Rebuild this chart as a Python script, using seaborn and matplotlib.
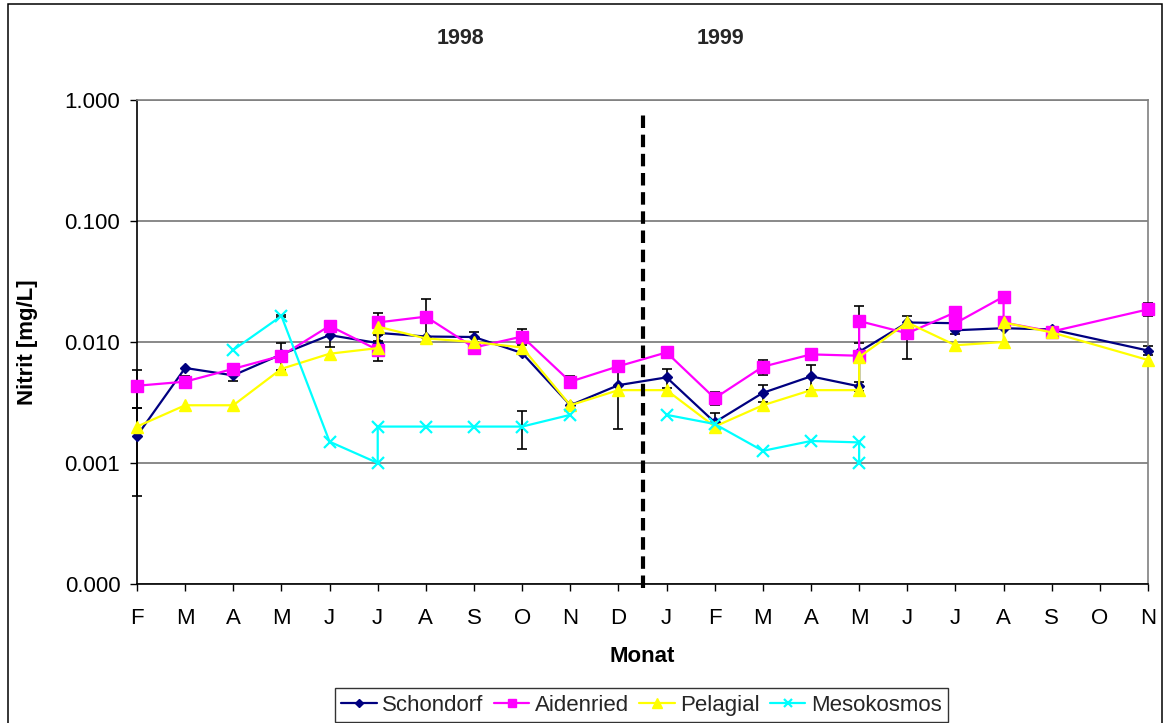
import numpy as np
import pandas as pd
import matplotlib
matplotlib.use("Agg")
import matplotlib.pyplot as plt
import seaborn as sns
from matplotlib.lines import Line2D
from matplotlib.patches import Rectangle
from matplotlib.ticker import FixedLocator, NullLocator, FuncFormatter

# Sampling months Feb 1998 - Nov 1999 (category positions 0..21)
months = ["F", "M", "A", "M", "J", "J", "A", "S", "O", "N", "D",
          "J", "F", "M", "A", "M", "J", "J", "A", "S", "O", "N"]
year_labels = ["1998", "1999"]

# Nitrite [mg/L]; repeated positions are two samplings within the same month
schondorf_pos = [0, 1, 2, 3, 4, 5, 5, 6, 7, 8, 9, 10, 11, 12, 13, 14, 15, 15,
                 16, 17, 17, 18, 19, 21]
schondorf_val = [0.00168, 0.0061, 0.0053, 0.0079, 0.0114, 0.0098, 0.0119,
                 0.0111, 0.0110, 0.0081, 0.0030, 0.0044, 0.0051, 0.00217,
                 0.0038, 0.0052, 0.0043, 0.0083, 0.0145, 0.0143, 0.0125,
                 0.0130, 0.0127, 0.0085]
schondorf_err = [0.00115, 0, 0.0005, 0.002, 0.0023, 0, 0, 0, 0.001, 0, 0,
                 0.0025, 0.0009, 0.0004, 0.0006, 0.0012, 0.0004, 0, 0, 0,
                 0.0008, 0, 0, 0.0007]

aidenried_pos = [0, 1, 2, 3, 4, 5, 5, 6, 7, 8, 9, 10, 11, 12, 13, 14, 15, 15,
                 16, 17, 17, 18, 18, 19, 21]
aidenried_val = [0.00435, 0.0047, 0.0060, 0.0077, 0.0136, 0.0086, 0.0145,
                 0.0162, 0.0090, 0.0111, 0.0047, 0.0063, 0.0082, 0.00343,
                 0.00625, 0.0079, 0.0077, 0.0149, 0.0118, 0.0176, 0.0143,
                 0.0237, 0.0145, 0.0122, 0.0186]
aidenried_err = [0.0015, 0.0005, 0, 0, 0, 0.0016, 0.003, 0.0063, 0, 0.0017,
                 0.0005, 0, 0.0008, 0.0004, 0.0009, 0, 0, 0.005, 0.0046, 0,
                 0, 0.0023, 0, 0, 0.0023]

pelagial_pos = [0, 1, 2, 3, 4, 5, 5, 6, 7, 8, 9, 10, 11, 12, 13, 14, 15, 15,
                16, 17, 18, 18, 19, 21]
pelagial_val = [0.0020, 0.0030, 0.0030, 0.0060, 0.0080, 0.0089, 0.0134,
                0.0107, 0.0100, 0.0090, 0.0030, 0.0040, 0.0040, 0.0020,
                0.0030, 0.0040, 0.0040, 0.0075, 0.0145, 0.0094, 0.0100,
                0.0145, 0.0120, 0.0071]
pelagial_err = [0] * len(pelagial_val)

mesokosmos_pos = [2, 3, 4, 5, 5, 6, 7, 8, 9, 11, 12, 13, 14, 15, 15]
mesokosmos_val = [0.0086, 0.0164, 0.0015, 0.0010, 0.0020, 0.0020, 0.0020,
                  0.0020, 0.0025, 0.0025, 0.0021, 0.00126, 0.00152, 0.00148,
                  0.0010]
mesokosmos_err = [0, 0.0004, 0, 0, 0, 0, 0, 0.0007, 0, 0, 0, 0, 0, 0, 0]
mesokosmos_seg = [0, 0, 0, 0, 0, 0, 0, 0, 0, 1, 1, 1, 1, 1, 1]

series = [
    ("Schondorf", schondorf_pos, schondorf_val, schondorf_err, None,
     "#000080", "D", 5.5, 1.0),
    ("Aidenried", aidenried_pos, aidenried_val, aidenried_err, None,
     "#FF00FF", "s", 8.0, 1.0),
    ("Pelagial", pelagial_pos, pelagial_val, pelagial_err, None,
     "#FFFF00", "^", 8.5, 1.0),
    ("Mesokosmos", mesokosmos_pos, mesokosmos_val, mesokosmos_err,
     mesokosmos_seg, "#00FFFF", "x", 8.0, 1.6),
]

sns.set_theme(style="white")
plt.rcParams["font.family"] = ["Liberation Sans", "DejaVu Sans"]
FS = 16

fig = plt.figure(figsize=(11.65, 7.23), dpi=100)
fig.patch.set_facecolor("white")
W, H = 1165, 723
ax = fig.add_axes([137 / W, 1 - 584 / H, (1148 - 137) / W, (584 - 100) / H])
ax.set_yscale("log")
ax.set_xlim(0, 21)
ax.set_ylim(1e-4, 1)

for i, (name, pos, val, err, seg, color, marker, ms, mew) in enumerate(series):
    df = pd.DataFrame({
        "pos": pos,
        "value": val,
        "seg": seg if seg is not None else [0] * len(pos),
    })
    z = 3 + i
    err = np.asarray(err, dtype=float)
    mask = err > 0
    if mask.any():
        ax.errorbar(np.asarray(pos)[mask], np.asarray(val)[mask],
                    yerr=err[mask], fmt="none", ecolor="black",
                    elinewidth=1.2, capsize=3.5, capthick=1.2,
                    zorder=z - 0.5, clip_on=False)
    sns.lineplot(data=df, x="pos", y="value", units="seg", estimator=None,
                 sort=False, color=color, marker=marker, markersize=ms,
                 markeredgecolor=color, markerfacecolor=color,
                 markeredgewidth=mew, linewidth=1.6, legend=False, ax=ax,
                 zorder=z, clip_on=False)

# Divider between the two sampling years
ax.axvline(10.5, ymin=-0.008, ymax=0.975, color="black", lw=3,
           linestyle=(0, (3, 1.6)), clip_on=False, zorder=10)

# Axes styling
ax.yaxis.set_major_locator(FixedLocator([1e-4, 1e-3, 1e-2, 1e-1, 1]))
ax.yaxis.set_minor_locator(NullLocator())
ax.yaxis.set_major_formatter(FuncFormatter(lambda v, p: f"{v:.3f}"))
ax.set_xticks(range(len(months)))
ax.set_xticklabels(months)
ax.grid(axis="y", color="#808080", lw=1.3)
ax.grid(axis="x", visible=False)
ax.set_axisbelow(True)
for side in ("left", "bottom"):
    ax.spines[side].set_color("black")
    ax.spines[side].set_linewidth(1.2)
for side in ("top", "right"):
    ax.spines[side].set_color("#808080")
    ax.spines[side].set_linewidth(1.2)
ax.tick_params(axis="x", bottom=True, direction="out", length=5, width=1,
               color="black", pad=12, labelsize=FS, labelcolor="black")
ax.tick_params(axis="y", left=True, direction="out", length=5, width=1,
               color="black", pad=7, labelsize=FS, labelcolor="black")

ax.set_ylabel("Nitrit [mg/L]", fontsize=FS, fontweight="bold", color="black")
ax.yaxis.set_label_coords(-0.098, 0.5)
ax.set_xlabel("Monat", fontsize=FS, fontweight="bold", color="black")
ax.xaxis.set_label_coords(0.5, (584 - 657) / 484)
ax.xaxis.label.set_va("center")

fig.text(460 / W, 1 - 38 / H, year_labels[0], fontsize=FS - 0.5,
         fontweight="bold", ha="center", va="center")
fig.text(720 / W, 1 - 38 / H, year_labels[1], fontsize=FS - 0.5,
         fontweight="bold", ha="center", va="center")

# Legend
handles = [Line2D([0], [0], color=c, marker=m, markersize=ms * 0.8,
                  markerfacecolor=c, markeredgecolor=c, markeredgewidth=mew,
                  lw=1.6)
           for (_, _, _, _, _, c, m, ms, mew) in series]
labels = [s[0] for s in series]
leg = fig.legend(handles, labels, loc="upper center",
                 bbox_to_anchor=(641.5 / W, 1 - 688 / H), ncol=4,
                 frameon=True, fancybox=False, shadow=False,
                 edgecolor="black", fontsize=FS, handlelength=1.6,
                 handletextpad=0.25, columnspacing=0.45, borderpad=0.3,
                 borderaxespad=0)
leg.get_frame().set_linewidth(1.0)

# Chart border
fig.patches.append(Rectangle((8 / W, -0.1), (1162 - 8) / W, 1.1 - 4 / H,
                             transform=fig.transFigure, fill=False,
                             edgecolor="black", lw=1.1))

fig.savefig("out.png", dpi=100)
